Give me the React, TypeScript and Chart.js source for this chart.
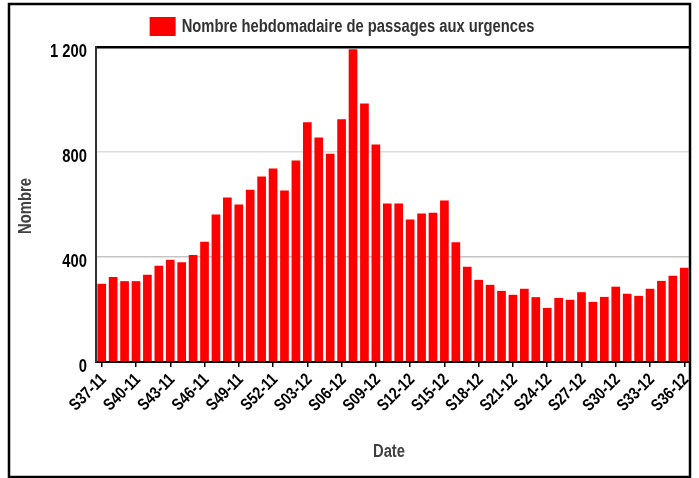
import React, { useEffect, useRef } from 'react';
import { Chart, registerables } from 'chart.js';

Chart.register(...registerables);

const FONT = '"Liberation Sans", Arial, sans-serif';
const SX = 0.82; // horizontal condensing of text

const weeks = [
  'S37-11', 'S38-11', 'S39-11', 'S40-11', 'S41-11', 'S42-11', 'S43-11', 'S44-11', 'S45-11', 'S46-11',
  'S47-11', 'S48-11', 'S49-11', 'S50-11', 'S51-11', 'S52-11', 'S01-12', 'S02-12', 'S03-12', 'S04-12',
  'S05-12', 'S06-12', 'S07-12', 'S08-12', 'S09-12', 'S10-12', 'S11-12', 'S12-12', 'S13-12', 'S14-12',
  'S15-12', 'S16-12', 'S17-12', 'S18-12', 'S19-12', 'S20-12', 'S21-12', 'S22-12', 'S23-12', 'S24-12',
  'S25-12', 'S26-12', 'S27-12', 'S28-12', 'S29-12', 'S30-12', 'S31-12', 'S32-12', 'S33-12', 'S34-12',
  'S35-12', 'S36-12',
];

const passages = [
  298, 324, 308, 308, 332, 367, 390, 380, 408, 458,
  562, 627, 600, 656, 707, 737, 653, 768, 913, 855,
  793, 925, 1191, 985, 829, 604, 604, 543, 566, 569,
  615, 456, 363, 313, 294, 271, 256, 279, 247, 206,
  244, 237, 266, 229, 248, 287, 260, 252, 279, 309,
  329, 359,
];

const seriesLabel = 'Nombre hebdomadaire de passages aux urgences';
const yTicks = [0, 400, 800, 1200];
const yTitle = 'Nombre';
const xTitle = 'Date';

function fmt(v: number): string {
  if (v >= 1000) {
    return Math.floor(v / 1000) + ' ' + String(v % 1000).padStart(3, '0');
  }
  return String(v);
}

function drawText(
  ctx: CanvasRenderingContext2D,
  text: string,
  x: number,
  y: number,
  size: number,
  color: string,
  align: CanvasTextAlign,
  rot: number,
) {
  ctx.save();
  ctx.translate(x, y);
  ctx.rotate(rot);
  ctx.scale(SX, 1);
  ctx.font = `bold ${size}px ${FONT}`;
  ctx.fillStyle = color;
  ctx.textAlign = align;
  ctx.textBaseline = 'middle';
  ctx.fillText(text, 0, 0);
  ctx.restore();
}

const textPlugin = {
  id: 'frameAndText',
  afterDraw(chart: any) {
    const ctx: CanvasRenderingContext2D = chart.ctx;
    const xs = chart.scales.x;
    const ys = chart.scales.y;
    ctx.save();
    // outer frame
    ctx.strokeStyle = '#000';
    ctx.lineWidth = 2.5;
    ctx.strokeRect(9, 4, 681, 473);
    // legend
    const ds = chart.data.datasets[0];
    ctx.font = `bold 18px ${FONT}`;
    const tw = ctx.measureText(ds.label).width * SX;
    const boxW = 26, boxH = 19, gap = 6;
    const total = boxW + gap + tw;
    const x0 = 342 - total / 2;
    ctx.fillStyle = ds.backgroundColor;
    ctx.fillRect(x0, 17, boxW, boxH);
    ctx.restore();
    drawText(ctx, ds.label, x0 + boxW + gap, 27, 18, '#333', 'left', 0);
    // y tick labels
    yTicks.forEach((v) => {
      drawText(ctx, fmt(v), 87, ys.getPixelForValue(v) + 5, 18, '#000', 'right', 0);
    });
    // x tick labels
    weeks.forEach((w, i) => {
      if (i % 3 !== 0) return;
      const px = xs.getPixelForValue(i);
      drawText(ctx, w, px + 2, chart.chartArea.bottom + 15, 17, '#000', 'right', -Math.PI / 4);
    });
    // axis titles
    drawText(ctx, xTitle, 389, 452, 18, '#404040', 'center', 0);
    drawText(ctx, yTitle, 26, 206, 18, '#404040', 'center', -Math.PI / 2);
  },
};

export default function App() {
  const ref = useRef<HTMLCanvasElement | null>(null);
  useEffect(() => {
    if (!ref.current) return;
    const chart = new Chart(ref.current, {
      type: 'bar',
      data: {
        labels: weeks,
        datasets: [
          {
            label: seriesLabel,
            data: passages,
            backgroundColor: '#ff0000',
            borderWidth: 0,
            barPercentage: 0.76,
            categoryPercentage: 1,
          },
        ],
      },
      options: {
        responsive: false,
        animation: false,
        devicePixelRatio: 1,
        layout: { padding: { left: 10, right: 9, top: 47, bottom: 0 } },
        plugins: {
          legend: { display: false },
          tooltip: { enabled: false },
        },
        scales: {
          x: {
            offset: true,
            grid: {
              display: true,
              drawOnChartArea: false,
              drawTicks: true,
              tickLength: 5,
              color: '#000',
              lineWidth: 1.5,
              offset: false,
            },
            border: { display: true, color: '#000', width: 2 },
            ticks: {
              autoSkip: false,
              maxRotation: 45,
              minRotation: 45,
              color: 'rgba(0,0,0,0)',
              padding: 2,
              font: { family: FONT, size: 14, weight: 'bold' },
              callback: (_v: any, i: number) => (i % 3 === 0 ? weeks[i] : null),
            },
            title: { display: false },
            afterFit: (s: any) => {
              s.height = 116;
              s.paddingLeft = 0;
              s.paddingRight = 0;
            },
          },
          y: {
            min: 0,
            max: 1200,
            afterBuildTicks: (s: any) => {
              s.ticks = yTicks.map((v) => ({ value: v }));
            },
            grid: {
              drawTicks: false,
              color: (c: any) =>
                c.tick && (c.tick.value === 1200 || c.tick.value === 0)
                  ? '#000'
                  : c.tick && c.tick.value === 400
                  ? '#c4c4c4'
                  : '#dcdcdc',
              lineWidth: (c: any) => (c.tick && c.tick.value === 1200 ? 2.5 : 1.5),
            },
            border: { display: true, color: '#333', width: 2 },
            ticks: {
              color: 'rgba(0,0,0,0)',
              padding: 8,
              font: { family: FONT, size: 14, weight: 'bold' },
              callback: (v: any) => fmt(Number(v)),
            },
            title: { display: false },
            afterFit: (s: any) => {
              s.width = 86;
            },
          },
        },
      },
      plugins: [textPlugin],
    });
    return () => chart.destroy();
  }, []);
  return (
    <div style={{ position: 'absolute', left: 0, top: 0, width: 699, height: 478 }}>
      <canvas ref={ref} width={699} height={478} />
    </div>
  );
}
